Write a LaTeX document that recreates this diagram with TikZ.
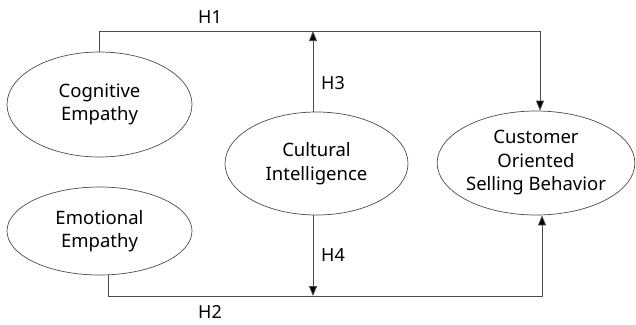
\documentclass[tikz,border=0pt]{standalone}
\usepackage{fontspec}
\setmainfont{Noto Sans}
\usetikzlibrary{shapes.geometric,arrows.meta}
\begin{document}
\begin{tikzpicture}[x=1pt,y=-1pt,
  construct/.style={draw=black!70, line width=0.7pt, ellipse, inner sep=0pt, align=center, font=\fontsize{18.5}{23.5}\selectfont},
  link/.style={draw=black!70, line width=0.8pt},
  arr/.style={link, -{Triangle[length=10pt,width=8pt,fill=black]}},
  lab/.style={font=\fontsize{18}{20}\selectfont, inner sep=0pt}]
\useasboundingbox (0,0) rectangle (636,324);
\node[construct, minimum width=185pt, minimum height=105pt] (cog) at (99.5,104.5) {Cognitive\\Empathy};
\node[construct, minimum width=185pt, minimum height=88pt] (emo) at (99.5,231) {Emotional\\Empathy};
\node[construct, minimum width=183pt, minimum height=103pt] (cul) at (316.5,163.5) {Cultural\\Intelligence};
\node[construct, minimum width=190pt, minimum height=104pt] (cos) at (536,163) {Customer\\Oriented\\Selling Behavior};
\coordinate (t1) at (99,31);
\coordinate (t2) at (540,31);
\coordinate (t3) at (313,31);
\coordinate (b1) at (108,296);
\coordinate (b2) at (542,296);
\coordinate (b3) at (313,296);
\draw[arr] (cog.north -| t1) -- (t1) -- (t2) -- (cos.north -| t2);
\draw[arr] (emo.south -| b1) -- (b1) -- (b2) -- (cos.south -| b2);
\draw[arr] (cul.north -| t3) -- (t3);
\draw[arr] (cul.south -| b3) -- (b3);
\node[lab] (h1) at (210,17) {H1};
\node[lab] (h3) at (333,83) {H3};
\node[lab] (h4) at (333,255) {H4};
\node[lab] (h2) at (210,312) {H2};
\end{tikzpicture}
\end{document}
